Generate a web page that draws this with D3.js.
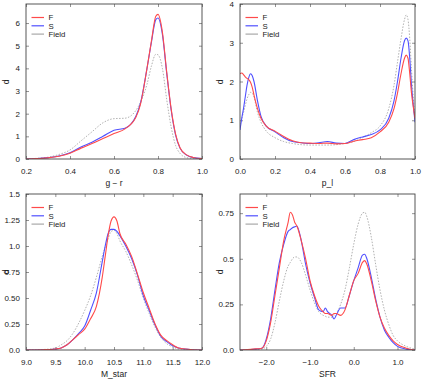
<!DOCTYPE html>
<html><head><meta charset="utf-8">
<script src="https://cdn.jsdelivr.net/npm/d3@7"></script>
<style>
body{margin:0;background:#fff;}
svg{display:block;font-family:"Liberation Sans",Arial,sans-serif;}
</style></head><body>
<svg id="c" width="424" height="381"></svg>
<script>
// ---- Panel 1: g − r ----
const grX = [0.2,0.25,0.3,0.35,0.4,0.45,0.5,0.55,0.6,0.65,0.7,0.72,0.75,0.77,0.79,0.8,0.82,0.84,0.86,0.88,0.9,0.93,0.96,1.0];
const grF = [0,0.02,0.05,0.12,0.25,0.48,0.68,0.9,1.12,1.33,1.85,2.4,4.0,5.2,6.3,6.38,5.6,3.8,2.2,1.1,0.5,0.18,0.07,0.02];
const grS = [0,0.02,0.06,0.13,0.28,0.53,0.74,1.0,1.27,1.36,1.9,2.45,4.0,5.15,6.15,6.22,5.5,3.75,2.15,1.05,0.48,0.17,0.06,0.02];
const grField = [0,0.03,0.08,0.2,0.4,0.8,1.2,1.6,1.78,1.8,2.15,2.5,3.3,4.1,4.62,4.6,4.0,2.6,1.4,0.6,0.25,0.06,0.02,0.01];
// ---- Panel 2: p_l ----
const plX = [0,0.01,0.02,0.03,0.04,0.05,0.06,0.07,0.08,0.1,0.12,0.15,0.2,0.25,0.3,0.35,0.4,0.45,0.5,0.55,0.6,0.65,0.7,0.75,0.8,0.85,0.88,0.9,0.92,0.94,0.95,0.96,0.97,0.98,0.99,1.0];
const plF = [2.2,2.22,2.18,2.12,2.08,2.05,1.98,1.85,1.65,1.3,1.05,0.85,0.72,0.58,0.47,0.42,0.41,0.4,0.41,0.39,0.4,0.46,0.5,0.55,0.7,0.95,1.3,1.7,2.2,2.6,2.68,2.6,2.2,1.7,1.35,1.05];
const plS = [0.75,1.05,1.3,1.6,1.9,2.1,2.2,2.15,2.0,1.5,1.1,0.85,0.7,0.55,0.45,0.42,0.4,0.42,0.45,0.41,0.4,0.5,0.57,0.63,0.75,1.05,1.5,2.0,2.6,3.05,3.12,3.05,2.6,1.9,1.4,0.95];
const plField = [0.9,1.05,1.2,1.38,1.55,1.66,1.72,1.7,1.6,1.2,0.95,0.72,0.55,0.45,0.4,0.37,0.36,0.36,0.36,0.37,0.4,0.45,0.55,0.68,0.85,1.3,1.9,2.5,3.1,3.6,3.72,3.6,3.1,2.3,1.6,1.0];
// ---- Panel 3: M_star ----
const msX = [9.0,9.3,9.5,9.6,9.7,9.8,9.9,10.0,10.1,10.2,10.3,10.35,10.4,10.45,10.5,10.55,10.6,10.7,10.8,10.9,11.0,11.1,11.2,11.3,11.4,11.5,11.6,11.8,12.0];
const msF = [0,0.003,0.01,0.02,0.05,0.1,0.15,0.2,0.3,0.42,0.7,0.9,1.1,1.24,1.28,1.24,1.12,1.02,0.9,0.73,0.55,0.4,0.25,0.14,0.09,0.05,0.02,0.005,0];
const msS = [0,0.003,0.01,0.02,0.05,0.1,0.16,0.23,0.38,0.55,0.85,1.0,1.12,1.16,1.16,1.14,1.1,1.0,0.88,0.72,0.52,0.38,0.24,0.13,0.08,0.04,0.02,0.005,0];
const msField = [0,0.005,0.02,0.05,0.09,0.16,0.26,0.38,0.52,0.7,0.9,0.99,1.07,1.14,1.15,1.12,1.05,0.95,0.82,0.67,0.5,0.35,0.22,0.12,0.06,0.03,0.01,0.003,0];
// ---- Panel 4: SFR ----
const sfX = [-2.6,-2.3,-2.1,-2.0,-1.9,-1.8,-1.7,-1.6,-1.5,-1.45,-1.4,-1.35,-1.3,-1.2,-1.1,-1.0,-0.9,-0.8,-0.7,-0.65,-0.6,-0.5,-0.45,-0.4,-0.3,-0.2,-0.1,0.0,0.1,0.2,0.25,0.3,0.4,0.5,0.6,0.7,0.8,0.9,1.0,1.2,1.4];
const sfF = [0,0.005,0.01,0.05,0.15,0.3,0.45,0.6,0.7,0.755,0.74,0.7,0.68,0.6,0.5,0.38,0.3,0.24,0.21,0.2,0.2,0.19,0.2,0.2,0.19,0.22,0.3,0.38,0.42,0.48,0.49,0.47,0.38,0.27,0.18,0.12,0.08,0.05,0.03,0.01,0];
const sfS = [0,0.004,0.01,0.06,0.17,0.33,0.48,0.58,0.65,0.66,0.67,0.675,0.68,0.6,0.47,0.37,0.29,0.22,0.21,0.23,0.21,0.19,0.17,0.19,0.23,0.23,0.3,0.38,0.45,0.52,0.525,0.5,0.4,0.28,0.18,0.11,0.07,0.04,0.02,0.005,0];
const sfField = [0,0.002,0.005,0.02,0.06,0.15,0.27,0.38,0.46,0.48,0.5,0.51,0.51,0.48,0.41,0.33,0.26,0.21,0.19,0.185,0.18,0.18,0.19,0.2,0.25,0.33,0.45,0.58,0.69,0.75,0.755,0.73,0.62,0.47,0.33,0.22,0.14,0.08,0.05,0.02,0.005];

const seriesNames = ["F","S","Field"];
const colors = {F:"#ff4a4a", S:"#5050ff", Field:"#a8a8a8"};

const panels = [
  {x0:26,x1:202,y0:4,y1:159, xd:[0.2,1.0], yd:[0,6.84], xt:[0.2,0.4,0.6,0.8,1.0], xf:d3.format(".1f"), yt:[0,1,2,3,4,5,6], yf:d3.format("d"), xl:"g \u2212 r", X:grX, F:grF, S:grS, Field:grField},
  {x0:240,x1:415,y0:4,y1:159, xd:[0,1], yd:[0,4], xt:[0,0.2,0.4,0.6,0.8,1.0], xf:d3.format(".1f"), yt:[0,1,2,3,4], yf:d3.format("d"), xl:"p_l", X:plX, F:plF, S:plS, Field:plField},
  {x0:26,x1:202,y0:194,y1:350, xd:[9,12], yd:[0,1.5], xt:[9,9.5,10,10.5,11,11.5,12], xf:d3.format(".1f"), yt:[0,0.25,0.5,0.75,1,1.25,1.5], yf:d=>({0:"0.0",0.25:"0.25",0.5:"0.50",0.75:"0.75",1:"1.0",1.25:"1.25",1.5:"1.5"})[d], xl:"M_star", X:msX, F:msF, S:msS, Field:msField},
  {x0:240,x1:415,y0:194,y1:350, xd:[-2.6,1.4], yd:[0,0.855], xt:[-2,-1,0,1], xf:d=>d3.format(".1f")(d).replace("-","\u2212"), yt:[0,0.25,0.5,0.75], yf:d=>({0:"0.0",0.25:"0.25",0.5:"0.5",0.75:"0.75"})[d], xl:"SFR", X:sfX, F:sfF, S:sfS, Field:sfField}
];

const svg = d3.select("#c");
panels.forEach(p=>{
  const x = d3.scaleLinear().domain(p.xd).range([p.x0,p.x1]);
  const y = d3.scaleLinear().domain(p.yd).range([p.y1,p.y0]);
  const g = svg.append("g");
  const clipId = "clip"+p.x0+"_"+p.y0;
  svg.append("clipPath").attr("id",clipId).append("rect")
    .attr("x",p.x0).attr("y",p.y0).attr("width",p.x1-p.x0).attr("height",p.y1-p.y0);

  const ax = (sel)=>{sel.select(".domain").remove(); sel.selectAll("line").attr("stroke","#666").attr("stroke-width",0.7);
    sel.selectAll("text").attr("font-size","8px").attr("fill","#222");};
  g.append("g").attr("transform",`translate(0,${p.y1})`)
    .call(d3.axisBottom(x).tickValues(p.xt).tickFormat(p.xf).tickSize(-3).tickPadding(9)).call(ax);
  g.append("g").attr("transform",`translate(0,${p.y0})`)
    .call(d3.axisTop(x).tickValues(p.xt).tickFormat("").tickSize(-3)).call(ax);
  g.append("g").attr("transform",`translate(${p.x0},0)`)
    .call(d3.axisLeft(y).tickValues(p.yt).tickFormat(p.yf).tickSize(-3).tickPadding(6)).call(ax);
  g.append("g").attr("transform",`translate(${p.x1},0)`)
    .call(d3.axisRight(y).tickValues(p.yt).tickFormat("").tickSize(-3)).call(ax);

  const line = d3.line().x(d=>x(d[0])).y(d=>y(d[1])).curve(d3.curveMonotoneX);
  ["Field","S","F"].forEach(n=>{
    const pts = p.X.map((v,i)=>[v,p[n][i]]);
    g.append("path").attr("d",line(pts)).attr("fill","none")
      .attr("clip-path",`url(#${clipId})`)
      .attr("stroke",colors[n]).attr("stroke-width",n==="Field"?0.9:1.1)
      .attr("stroke-dasharray",n==="Field"?"1.5,1.5":null);
  });

  g.append("rect").attr("x",p.x0).attr("y",p.y0).attr("width",p.x1-p.x0).attr("height",p.y1-p.y0)
    .attr("fill","none").attr("stroke","#444").attr("stroke-width",0.9);

  seriesNames.forEach((n,i)=>{
    const ly = p.y0+13.5+i*8.3;
    g.append("line").attr("x1",p.x0+5.5).attr("x2",p.x0+18).attr("y1",ly).attr("y2",ly)
      .attr("stroke",colors[n]).attr("stroke-width",1.2);
    g.append("text").attr("x",p.x0+22.5).attr("y",ly+2.7).attr("font-size","7.8px").attr("fill","#222").text(n);
  });

  g.append("text").attr("x",(p.x0+p.x1)/2).attr("y",p.y1+27).attr("text-anchor","middle")
    .attr("font-size","8.5px").attr("fill","#222").text(p.xl);
  g.append("text").attr("transform",`translate(${p.x0-17},${p.y0+78}) rotate(-90)`).attr("text-anchor","middle")
    .attr("font-size","8.5px").attr("fill","#222").text("d");
});
</script></body></html>
